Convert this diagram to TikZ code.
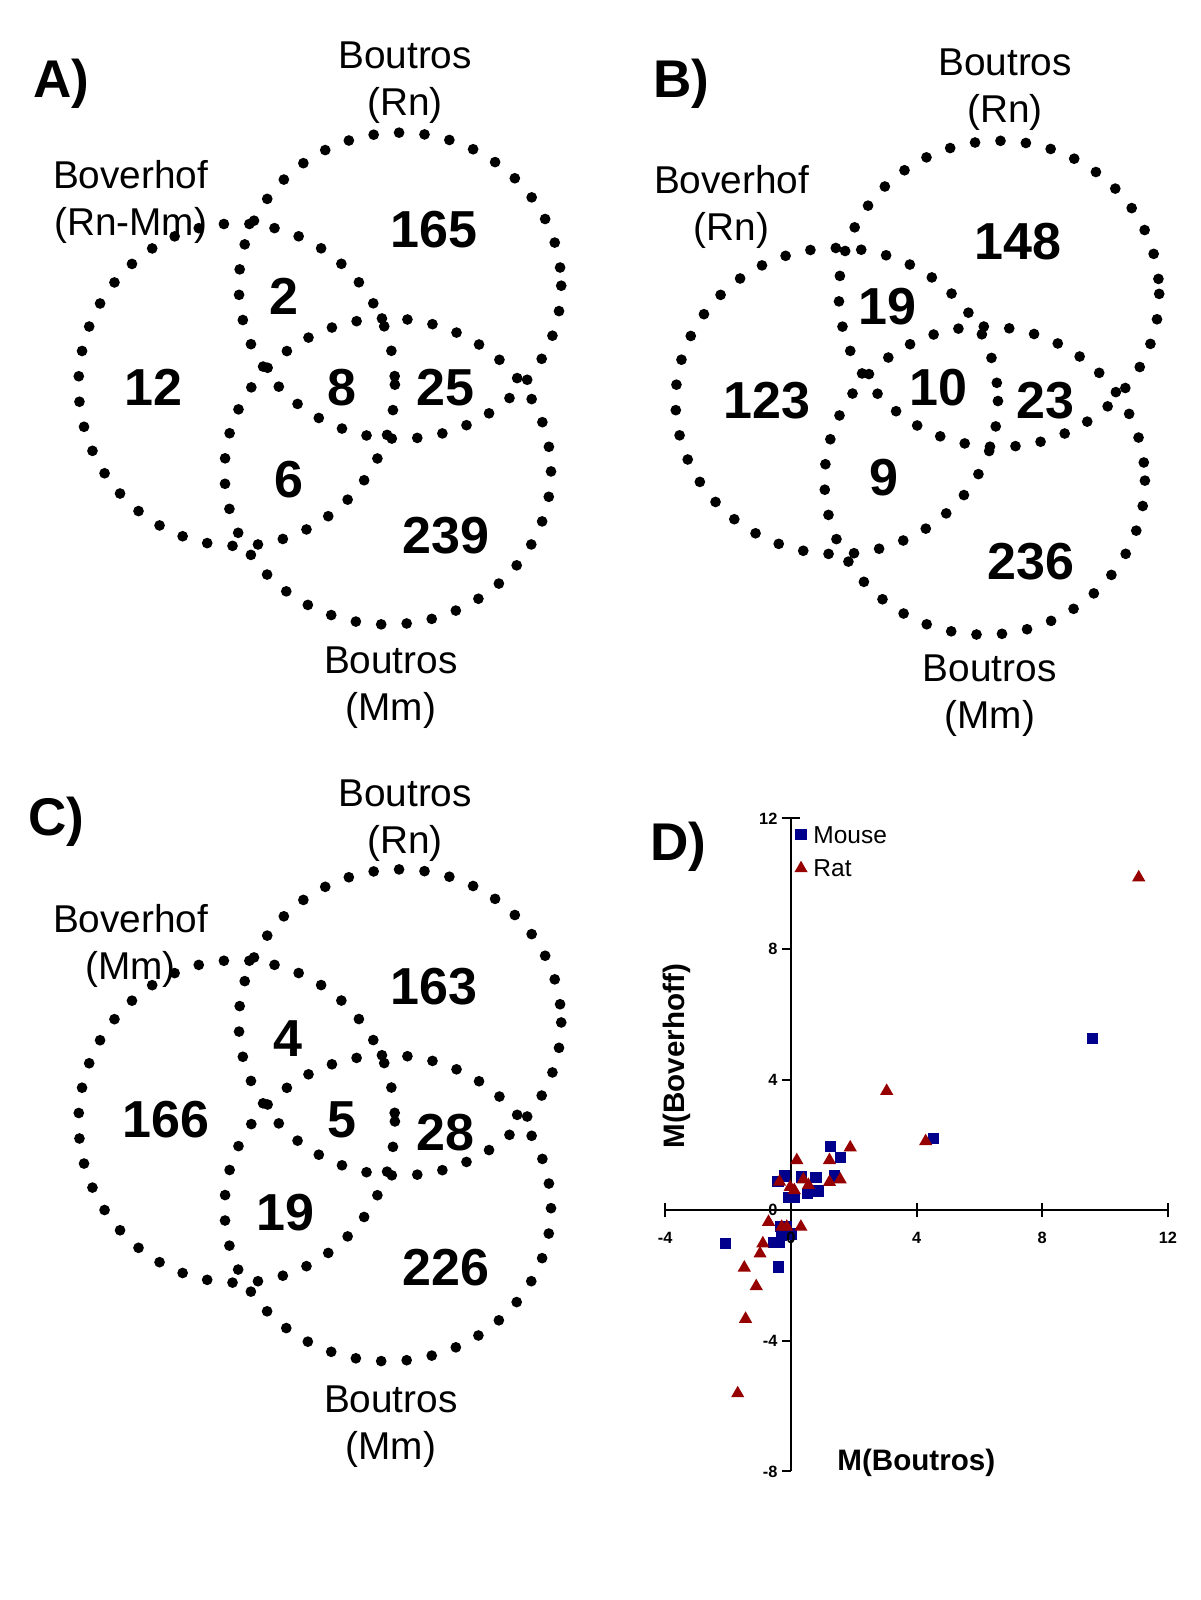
\documentclass[tikz,border=0pt]{standalone}
\usepackage{fontspec}
\setmainfont{Liberation Sans}
\usetikzlibrary{shapes.geometric}
\definecolor{MouseBlue}{RGB}{0, 0, 140}
\definecolor{RatRed}{RGB}{150, 0, 0}

\begin{document}
\begin{tikzpicture}[x=1pt, y=-1pt,
    ring/.style={draw=black, line width=10.5pt, line cap=round, dash pattern=on 0pt off 25pt},
    count/.style={font=\fontsize{51}{51}\selectfont\bfseries, inner sep=0pt},
    setlbl/.style={align=center, font=\fontsize{38}{46}\selectfont, inner sep=0pt},
    panel/.style={font=\fontsize{52}{52}\selectfont\bfseries, inner sep=0pt},
    axis/.style={draw=black, line width=2pt},
    ticklbl/.style={font=\fontsize{16}{16}\selectfont\bfseries, inner sep=0pt},
    axlbl/.style={font=\fontsize{29}{30}\selectfont\bfseries, inner sep=0pt},
    mousept/.style={rectangle, fill=MouseBlue, minimum size=11pt, inner sep=0pt},
    ratpt/.style={regular polygon, regular polygon sides=3, fill=RatRed, minimum size=15pt, inner sep=0pt}
]
\useasboundingbox (0,0) rectangle (1176,1568);

% A) Boverhof (Rn-Mm) vs Boutros
\node[panel] (pa) at (60,82) {A)};
\draw[ring] (232,377) ellipse [x radius=155, y radius=158];
\draw[ring] (392,280) ellipse [x radius=158, y radius=150];
\draw[ring] (380,462) ellipse [x radius=160, y radius=150];
\node[setlbl] (aRn) at (397,81) {Boutros\\(Rn)};
\node[setlbl] (aBov) at (128,198) {Boverhof\\(Rn-Mm)};
\node[setlbl] (aMm) at (383,674) {Boutros\\(Mm)};
\node[count] (a1) at (425,225) {165};
\node[count] (a2) at (278,290) {2};
\node[count] (a3) at (150,380) {12};
\node[count] (a4) at (335,380) {8};
\node[count] (a5) at (437,380) {25};
\node[count] (a6) at (283,470) {6};
\node[count] (a7) at (437,525) {239};

% B) Boverhof (Rn) vs Boutros
\node[panel] (pb) at (668,82) {B)};
\draw[ring] (820,393) ellipse [x radius=158, y radius=150];
\draw[ring] (979,288) ellipse [x radius=157, y radius=150];
\draw[ring] (965,471) ellipse [x radius=157, y radius=151];
\node[setlbl] (bRn) at (985,88) {Boutros\\(Rn)};
\node[setlbl] (bBov) at (717,203) {Boverhof\\(Rn)};
\node[setlbl] (bMm) at (970,682) {Boutros\\(Mm)};
\node[count] (b1) at (998,237) {148};
\node[count] (b2) at (870,300) {19};
\node[count] (b3) at (752,393) {123};
\node[count] (b4) at (920,380) {10};
\node[count] (b5) at (1025,393) {23};
\node[count] (b6) at (866,468) {9};
\node[count] (b7) at (1010,550) {236};

% C) Boverhof (Mm) vs Boutros
\node[panel] (pc) at (55,805) {C)};
\draw[ring] (232,1099) ellipse [x radius=155, y radius=158];
\draw[ring] (392,1002) ellipse [x radius=158, y radius=150];
\draw[ring] (380,1184) ellipse [x radius=160, y radius=150];
\node[setlbl] (cRn) at (397,804) {Boutros\\(Rn)};
\node[setlbl] (cBov) at (128,927) {Boverhof\\(Mm)};
\node[setlbl] (cMm) at (383,1398) {Boutros\\(Mm)};
\node[count] (c1) at (425,967) {163};
\node[count] (c2) at (282,1018) {4};
\node[count] (c3) at (163,1097) {166};
\node[count] (c4) at (335,1097) {5};
\node[count] (c5) at (437,1110) {28};
\node[count] (c6) at (280,1188) {19};
\node[count] (c7) at (437,1242) {226};

% D) M values, Boverhoff against Boutros
\node[panel] (pd) at (665,830) {D)};
\begin{scope}[shift={(775,1186)}, x=30.8pt, y=32pt]
  \draw[axis] (-4,0) -- (12,0);
  \draw[axis] (0,-8) -- (0,12);
  \foreach \t in {-4,4,8,12}
    \draw[axis] ([yshift=-7pt]\t,0) -- ([yshift=7pt]\t,0);
  \foreach \t in {-8,-4,4,8}
    \draw[axis] (0,\t) -- ([xshift=-9pt]0,\t);
  \draw[axis] ([xshift=-9pt]0,12) -- ([xshift=9pt]0,12);
  \foreach \t in {-8,-4,0,4,8,12}
    \node[ticklbl, anchor=east] (yl\t) at ([xshift=-13pt]0,\t) {\t};
  % mouse
  \foreach \px/\py [count=\i] in {9.6/5.27, 4.54/2.2, 1.25/1.96, 1.57/1.61, 1.39/1.05,
      -0.2/1.05, -0.41/0.87, 0.35/1.02, 0.8/1.0, 0.88/0.59, 0.53/0.51, -0.07/0.39,
      0.11/0.39, -0.34/-0.51, -0.13/-0.51, -0.29/-0.77, -0.55/-1.0, -0.36/-1.0,
      0.03/-0.73, -2.07/-1.01, -0.38/-1.74}
    \node[mousept] (m\i) at (\px,\py) {};
  % rat
  \foreach \px/\py [count=\i] in {11.07/10.19, 4.29/2.11, 3.05/3.65, 1.89/1.92, 0.19/1.53,
      1.23/1.53, 0.4/0.94, -0.36/0.87, 0.56/0.77, -0.02/0.71, 1.23/0.86, 1.57/0.94,
      0.11/0.61, -0.71/-0.36, -0.29/-0.51, -0.13/-0.51, 0.32/-0.51, -0.89/-1.02,
      -0.98/-1.33, -1.48/-1.76, -1.1/-2.33, -1.44/-3.33, -1.69/-5.61}
    \node[ratpt] (r\i) at (\px,\py) {};
  \foreach \t in {-4,0,4,8,12}
    \node[ticklbl] (xl\t) at ([yshift=-27pt]\t,0) {\t};
\end{scope}
\node[mousept] (keym) at (785,818) {};
\node[anchor=west, font=\fontsize{24}{24}\selectfont, inner sep=0pt] (keymt) at (797,818) {Mouse};
\node[ratpt] (keyr) at (785,851) {};
\node[anchor=west, font=\fontsize{24}{24}\selectfont, inner sep=0pt] (keyrt) at (797,851) {Rat};
\node[axlbl] (xlab) at (898,1434) {M(Boutros)};
\node[axlbl, rotate=90] (ylab) at (663,1035) {M(Boverhoff)};
\end{tikzpicture}
\end{document}
